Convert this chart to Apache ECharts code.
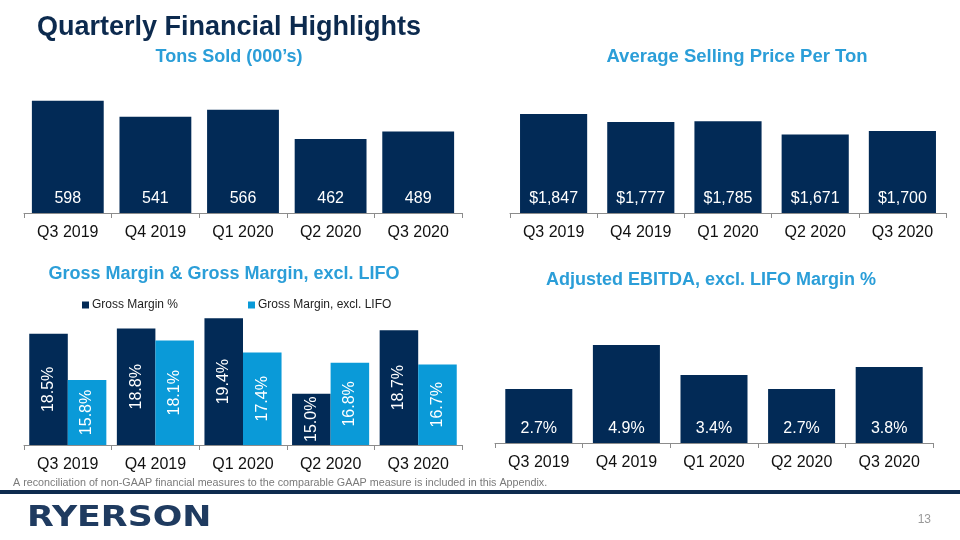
<!DOCTYPE html>
<html>
<head>
<meta charset="utf-8">
<script src="https://cdn.jsdelivr.net/npm/echarts@6/dist/echarts.min.js"></script>
<style>
html,body{margin:0;padding:0;background:#fff;}
#main{width:960px;height:540px;}
</style>
</head>
<body>
<div id="main"></div>
<script>
// ---- data ----
var quarters = ['Q3 2019', 'Q4 2019', 'Q1 2020', 'Q2 2020', 'Q3 2020'];
var tonsSold = [598, 541, 566, 462, 489];
var avgPrice = [1847, 1777, 1785, 1671, 1700];
var grossMargin = [18.5, 18.8, 19.4, 15.0, 18.7];
var grossMarginExLifo = [15.8, 18.1, 17.4, 16.8, 16.7];
var ebitdaMargin = [2.7, 4.9, 3.4, 2.7, 3.8];
var seriesNames = ['Gross Margin %', 'Gross Margin, excl. LIFO'];

var NAVY = '#022a56';
var BLUE = '#0a9ad8';
var SUB = '#2b9ed8';
var FONT = 'Liberation Sans, Arial, sans-serif';

var chart = echarts.init(document.getElementById('main'), null, {renderer: 'canvas'});

function xAx(idx) {
  return {
    type: 'category', gridIndex: idx, data: quarters,
    axisLine: {lineStyle: {color: '#8c8c8c', width: 1}},
    axisTick: {show: true, length: 5, lineStyle: {color: '#8c8c8c'}},
    axisLabel: {fontSize: 16, color: '#111', fontFamily: FONT, margin: 12}
  };
}
function yAx(idx, min, max) {
  return {type: 'value', gridIndex: idx, min: min, max: max, show: false, splitLine: {show: false}};
}
function txt(x, y, s, size, color, weight, align) {
  return {type: 'text', x: x, y: y,
    style: {text: s, fontSize: size, fill: color, fontWeight: weight || 'normal',
      fontFamily: FONT, align: align || 'left', verticalAlign: 'middle'}};
}

var option = {
  animation: false,
  grid: [
    {left: 24, width: 438, top: 86, height: 127},
    {left: 510, width: 436, top: 96, height: 117},
    {left: 24, width: 438, top: 308, height: 137},
    {left: 495, width: 438, top: 323, height: 120}
  ],
  xAxis: [xAx(0), xAx(1), xAx(2), xAx(3)],
  yAxis: [yAx(0, 200, 650), yAx(1, 1000, 2000), yAx(2, 12, 20), yAx(3, 0, 6)],
  legend: [
    {data: [seriesNames[0]], left: 77, top: 294, icon: 'rect', itemWidth: 7, itemHeight: 7, itemGap: 4,
      textStyle: {fontSize: 12, color: '#222', fontFamily: FONT, padding: [0, 0, 0, -2]}},
    {data: [seriesNames[1]], left: 243, top: 294, icon: 'rect', itemWidth: 7, itemHeight: 7, itemGap: 4,
      textStyle: {fontSize: 12, color: '#222', fontFamily: FONT, padding: [0, 0, 0, -2]}}
  ],
  series: [
    {type: 'bar', xAxisIndex: 0, yAxisIndex: 0, data: tonsSold, barCategoryGap: '18%',
      itemStyle: {color: NAVY},
      label: {show: true, position: 'insideBottom', distance: 6, color: '#fff', fontSize: 16, fontFamily: FONT}},
    {type: 'bar', xAxisIndex: 1, yAxisIndex: 1, data: avgPrice, barCategoryGap: '23%',
      itemStyle: {color: NAVY},
      label: {show: true, position: 'insideBottom', distance: 6, color: '#fff', fontSize: 16, fontFamily: FONT,
        formatter: function (p) { return '$' + p.value.toLocaleString('en-US'); }}},
    {type: 'bar', name: seriesNames[0], xAxisIndex: 2, yAxisIndex: 2, data: grossMargin,
      barCategoryGap: '12%', barGap: '0%',
      itemStyle: {color: NAVY},
      label: {show: true, position: 'inside', rotate: 90, color: '#fff', fontSize: 16, fontFamily: FONT,
        formatter: function (p) { return p.value.toFixed(1) + '%'; }}},
    {type: 'bar', name: seriesNames[1], xAxisIndex: 2, yAxisIndex: 2, data: grossMarginExLifo,
      barCategoryGap: '12%', barGap: '0%',
      itemStyle: {color: BLUE},
      label: {show: true, position: 'inside', rotate: 90, color: '#fff', fontSize: 16, fontFamily: FONT,
        formatter: function (p) { return p.value.toFixed(1) + '%'; }}},
    {type: 'bar', xAxisIndex: 3, yAxisIndex: 3, data: ebitdaMargin, barCategoryGap: '23.5%',
      itemStyle: {color: NAVY},
      label: {show: true, position: 'insideBottom', distance: 6, color: '#fff', fontSize: 16, fontFamily: FONT,
        formatter: function (p) { return p.value.toFixed(1) + '%'; }}}
  ],
  graphic: [
    txt(37, 28, 'Quarterly Financial Highlights', 27, '#0c2a4e', 'bold'),
    txt(229, 57, 'Tons Sold (000\u2019s)', 18, SUB, 'bold', 'center'),
    txt(737, 57, 'Average Selling Price Per Ton', 18.5, SUB, 'bold', 'center'),
    txt(224, 274, 'Gross Margin & Gross Margin, excl. LIFO', 18, SUB, 'bold', 'center'),
    txt(711, 280, 'Adjusted EBITDA, excl. LIFO Margin %', 18, SUB, 'bold', 'center'),
    txt(13, 483, 'A reconciliation of non-GAAP financial measures to the comparable GAAP measure is included in this Appendix.', 10.75, '#7a7a7a'),
    {type: 'rect', shape: {x: 0, y: 490, width: 960, height: 4}, style: {fill: '#0e2b4f'}},
    {type: 'text', x: 27, y: 518, scaleX: 1.2,
      style: {text: 'RYERSON', fontSize: 29, fontWeight: 'bold', fill: '#1f3b60', fontFamily: 'DejaVu Sans, sans-serif', verticalAlign: 'middle'}},
    txt(931, 520, '13', 12, '#999', 'normal', 'right')
  ]
};
chart.setOption(option);
</script>
</body>
</html>
